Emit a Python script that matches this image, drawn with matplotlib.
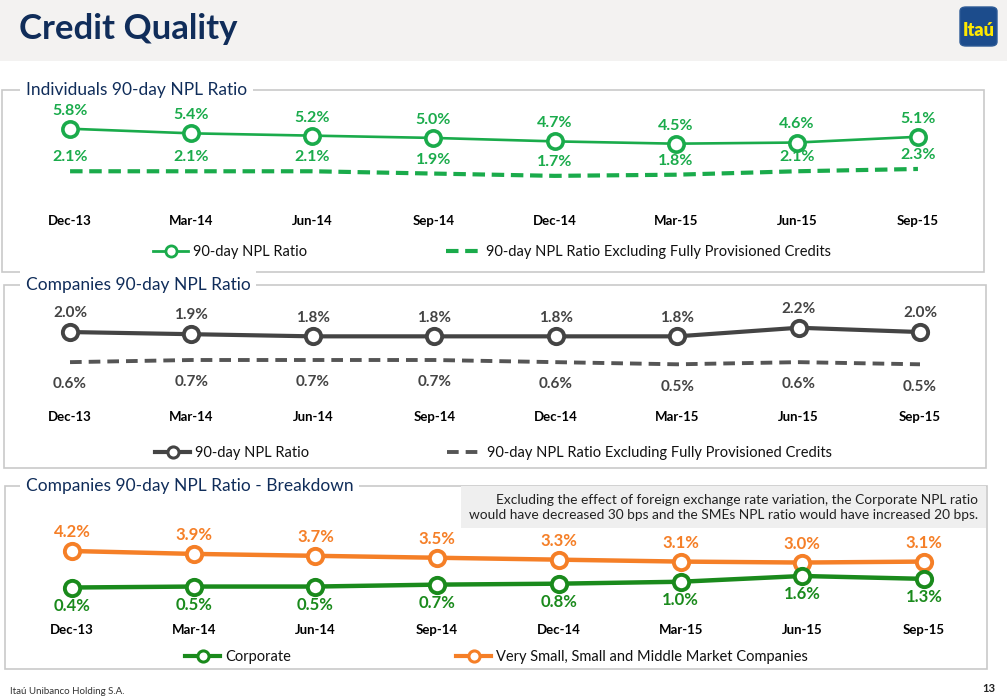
import matplotlib
matplotlib.use("Agg")
import matplotlib.pyplot as plt
from matplotlib.patches import Rectangle, FancyBboxPatch
from matplotlib.lines import Line2D

plt.rcParams['font.family'] = ['Lato', 'DejaVu Sans']

# Data
quarters = ['Dec-13', 'Mar-14', 'Jun-14', 'Sep-14', 'Dec-14', 'Mar-15', 'Jun-15', 'Sep-15']
ind_npl = [5.8, 5.4, 5.2, 5.0, 4.7, 4.5, 4.6, 5.1]
ind_npl_excl = [2.1, 2.1, 2.1, 1.9, 1.7, 1.8, 2.1, 2.3]
comp_npl = [2.0, 1.9, 1.8, 1.8, 1.8, 1.8, 2.2, 2.0]
comp_npl_excl = [0.6, 0.7, 0.7, 0.7, 0.6, 0.5, 0.6, 0.5]
corporate = [0.4, 0.5, 0.5, 0.7, 0.8, 1.0, 1.6, 1.3]
smes = [4.2, 3.9, 3.7, 3.5, 3.3, 3.1, 3.0, 3.1]

W, H = 1007, 698
GREEN = '#1aab4b'
DKGREEN = '#1a8a1c'
ORANGE = '#f57f27'
GRAY = '#444444'
DGRAY = '#555555'
NAVY = '#102d5a'
BORDER = '#c9c9c9'

fig = plt.figure(figsize=(W / 100, H / 100), dpi=100)
fig.patch.set_facecolor('white')


def fx(x):
    return x / W


def fy(y):
    return 1 - y / H


def px_axes(x0, y0, x1, y1):
    ax = fig.add_axes([fx(x0), fy(y1), (x1 - x0) / W, (y1 - y0) / H])
    ax.set_facecolor('none')
    for s in ax.spines.values():
        s.set_visible(False)
    ax.set_yticks([])
    return ax


# header band
fig.add_artist(Rectangle((0, fy(61)), 1, 61 / H, transform=fig.transFigure,
                         facecolor='#f3f2f1', edgecolor='none', zorder=0))
fig.text(fx(19), fy(29), 'Credit Quality', fontsize=25, fontweight='bold',
         color=NAVY, va='center', ha='left')
fig.add_artist(FancyBboxPatch((fx(960), fy(46)), 37 / W, 39 / H,
                              boxstyle='round,pad=0,rounding_size=0.006',
                              transform=fig.transFigure, facecolor='#1c4c8c',
                              edgecolor='#2c5a96', zorder=2))
fig.text(fx(978.5), fy(31), 'Itaú', fontsize=13, fontweight='heavy',
         color='#ffe800', ha='center', va='center', zorder=3)


def panel(x0, y0, x1, y1, title):
    fig.add_artist(Rectangle((fx(x0), fy(y1)), (x1 - x0) / W, (y1 - y0) / H,
                             transform=fig.transFigure, facecolor='none',
                             edgecolor=BORDER, linewidth=1.2, zorder=1))
    fig.text(fx(26), fy(y0), title, fontsize=12.5, color=NAVY, va='center',
             ha='left', zorder=3,
             bbox=dict(facecolor='white', edgecolor='none', pad=4))


def legend_item(x, y, handle, label):
    leg = fig.legend([handle], [label], loc='center left',
                     bbox_to_anchor=(fx(x), fy(y)), frameon=False,
                     borderpad=0, borderaxespad=0, handlelength=2.4,
                     handletextpad=0.35, fontsize=10.5)
    for t in leg.get_texts():
        t.set_color('#111111')
    return leg


def label_points(ax, vals, color, dy, size=11.5):
    for i, v in enumerate(vals):
        ax.annotate(f'{v:.1f}%', (i, v), xytext=(0, dy), textcoords='offset points',
                    ha='center', va='center', fontsize=size, fontweight='bold',
                    color=color)


def setup_x(ax, pad):
    ax.set_xlim(-0.5, 7.5)
    ax.set_xticks(range(len(quarters)))
    ax.set_xticklabels(quarters, fontsize=9.5, fontweight='bold')
    ax.tick_params(axis='x', length=0, pad=pad)


# Panel 1 - Individuals
panel(2, 90, 984, 272, 'Individuals 90-day NPL Ratio')
ax1 = px_axes(9.5, 100, 978.5, 200)
ax1.set_ylim(-0.4, 8.3)
setup_x(ax1, 10.5)
ax1.plot(range(8), ind_npl_excl, color=GREEN, lw=3, ls=(0, (3, 1.6)))
ax1.plot(range(8), ind_npl, color=GREEN, lw=1.9, marker='o', ms=11,
         mfc='white', mec=GREEN, mew=2.6)
label_points(ax1, ind_npl, GREEN, 13)
label_points(ax1, ind_npl_excl, GREEN, 10)
legend_item(153, 252, Line2D([], [], color=GREEN, lw=2, marker='o', ms=8,
                             mfc='white', mec=GREEN, mew=2), '90-day NPL Ratio')
legend_item(446, 252, Line2D([], [], color=GREEN, lw=3, ls=(0, (3, 1.6))),
            '90-day NPL Ratio Excluding Fully Provisioned Credits')

# Panel 2 - Companies
panel(4, 285, 986, 468, 'Companies 90-day NPL Ratio')
ax2 = px_axes(9.3, 300, 980.7, 400)
ax2.set_ylim(-1.16, 3.49)
setup_x(ax2, 8)
ax2.plot(range(8), comp_npl_excl, color=DGRAY, lw=2.8, ls=(0, (3, 1.8)))
ax2.plot(range(8), comp_npl, color=GRAY, lw=3, marker='o', ms=11,
         mfc='white', mec=GRAY, mew=2.8)
label_points(ax2, comp_npl, GRAY, 13.5, 11)
label_points(ax2, comp_npl_excl, GRAY, -16, 11)
legend_item(155, 453, Line2D([], [], color=GRAY, lw=3, marker='o', ms=8,
                             mfc='white', mec=GRAY, mew=2.2), '90-day NPL Ratio')
legend_item(447, 453, Line2D([], [], color=DGRAY, lw=2.8, ls=(0, (3, 1.8))),
            '90-day NPL Ratio Excluding Fully Provisioned Credits')

# Panel 3 - Breakdown
panel(5, 486, 987, 669, 'Companies 90-day NPL Ratio - Breakdown')
fig.add_artist(Rectangle((fx(461), fy(528)), (986 - 461) / W, 42 / H,
                         transform=fig.transFigure, facecolor='#efefef',
                         edgecolor='none', zorder=1))
fig.text(fx(978), fy(507.5),
         'Excluding the effect of foreign exchange rate variation, the Corporate NPL ratio\n'
         'would have decreased 30 bps and the SMEs NPL ratio would have increased 20 bps.',
         fontsize=9.9, color='#222222', ha='right', va='center', linespacing=1.3,
         zorder=3)
ax3 = px_axes(11.1, 520, 984.9, 612)
ax3.set_ylim(-2.15, 7.43)
setup_x(ax3, 9)
ax3.plot(range(8), smes, color=ORANGE, lw=3.2, marker='o', ms=11,
         mfc='white', mec=ORANGE, mew=2.8)
ax3.plot(range(8), corporate, color=DKGREEN, lw=3.2, marker='o', ms=11,
         mfc='white', mec=DKGREEN, mew=2.8)
label_points(ax3, smes, ORANGE, 13.5, 12)
label_points(ax3, corporate, DKGREEN, -13, 12)
legend_item(185, 657, Line2D([], [], color=DKGREEN, lw=3, marker='o', ms=8,
                             mfc='white', mec=DKGREEN, mew=2.2), 'Corporate')
legend_item(456, 657, Line2D([], [], color=ORANGE, lw=3, marker='o', ms=8,
                             mfc='white', mec=ORANGE, mew=2.2),
            'Very Small, Small and Middle Market Companies')

# footer
fig.text(fx(10), fy(691), 'Itaú Unibanco Holding S.A.', fontsize=7,
         color='#333333', ha='left', va='center')
fig.text(fx(995), fy(688), '13', fontsize=8, fontweight='bold',
         color='#222222', ha='right', va='center')

fig.savefig('out.png', dpi=100)
